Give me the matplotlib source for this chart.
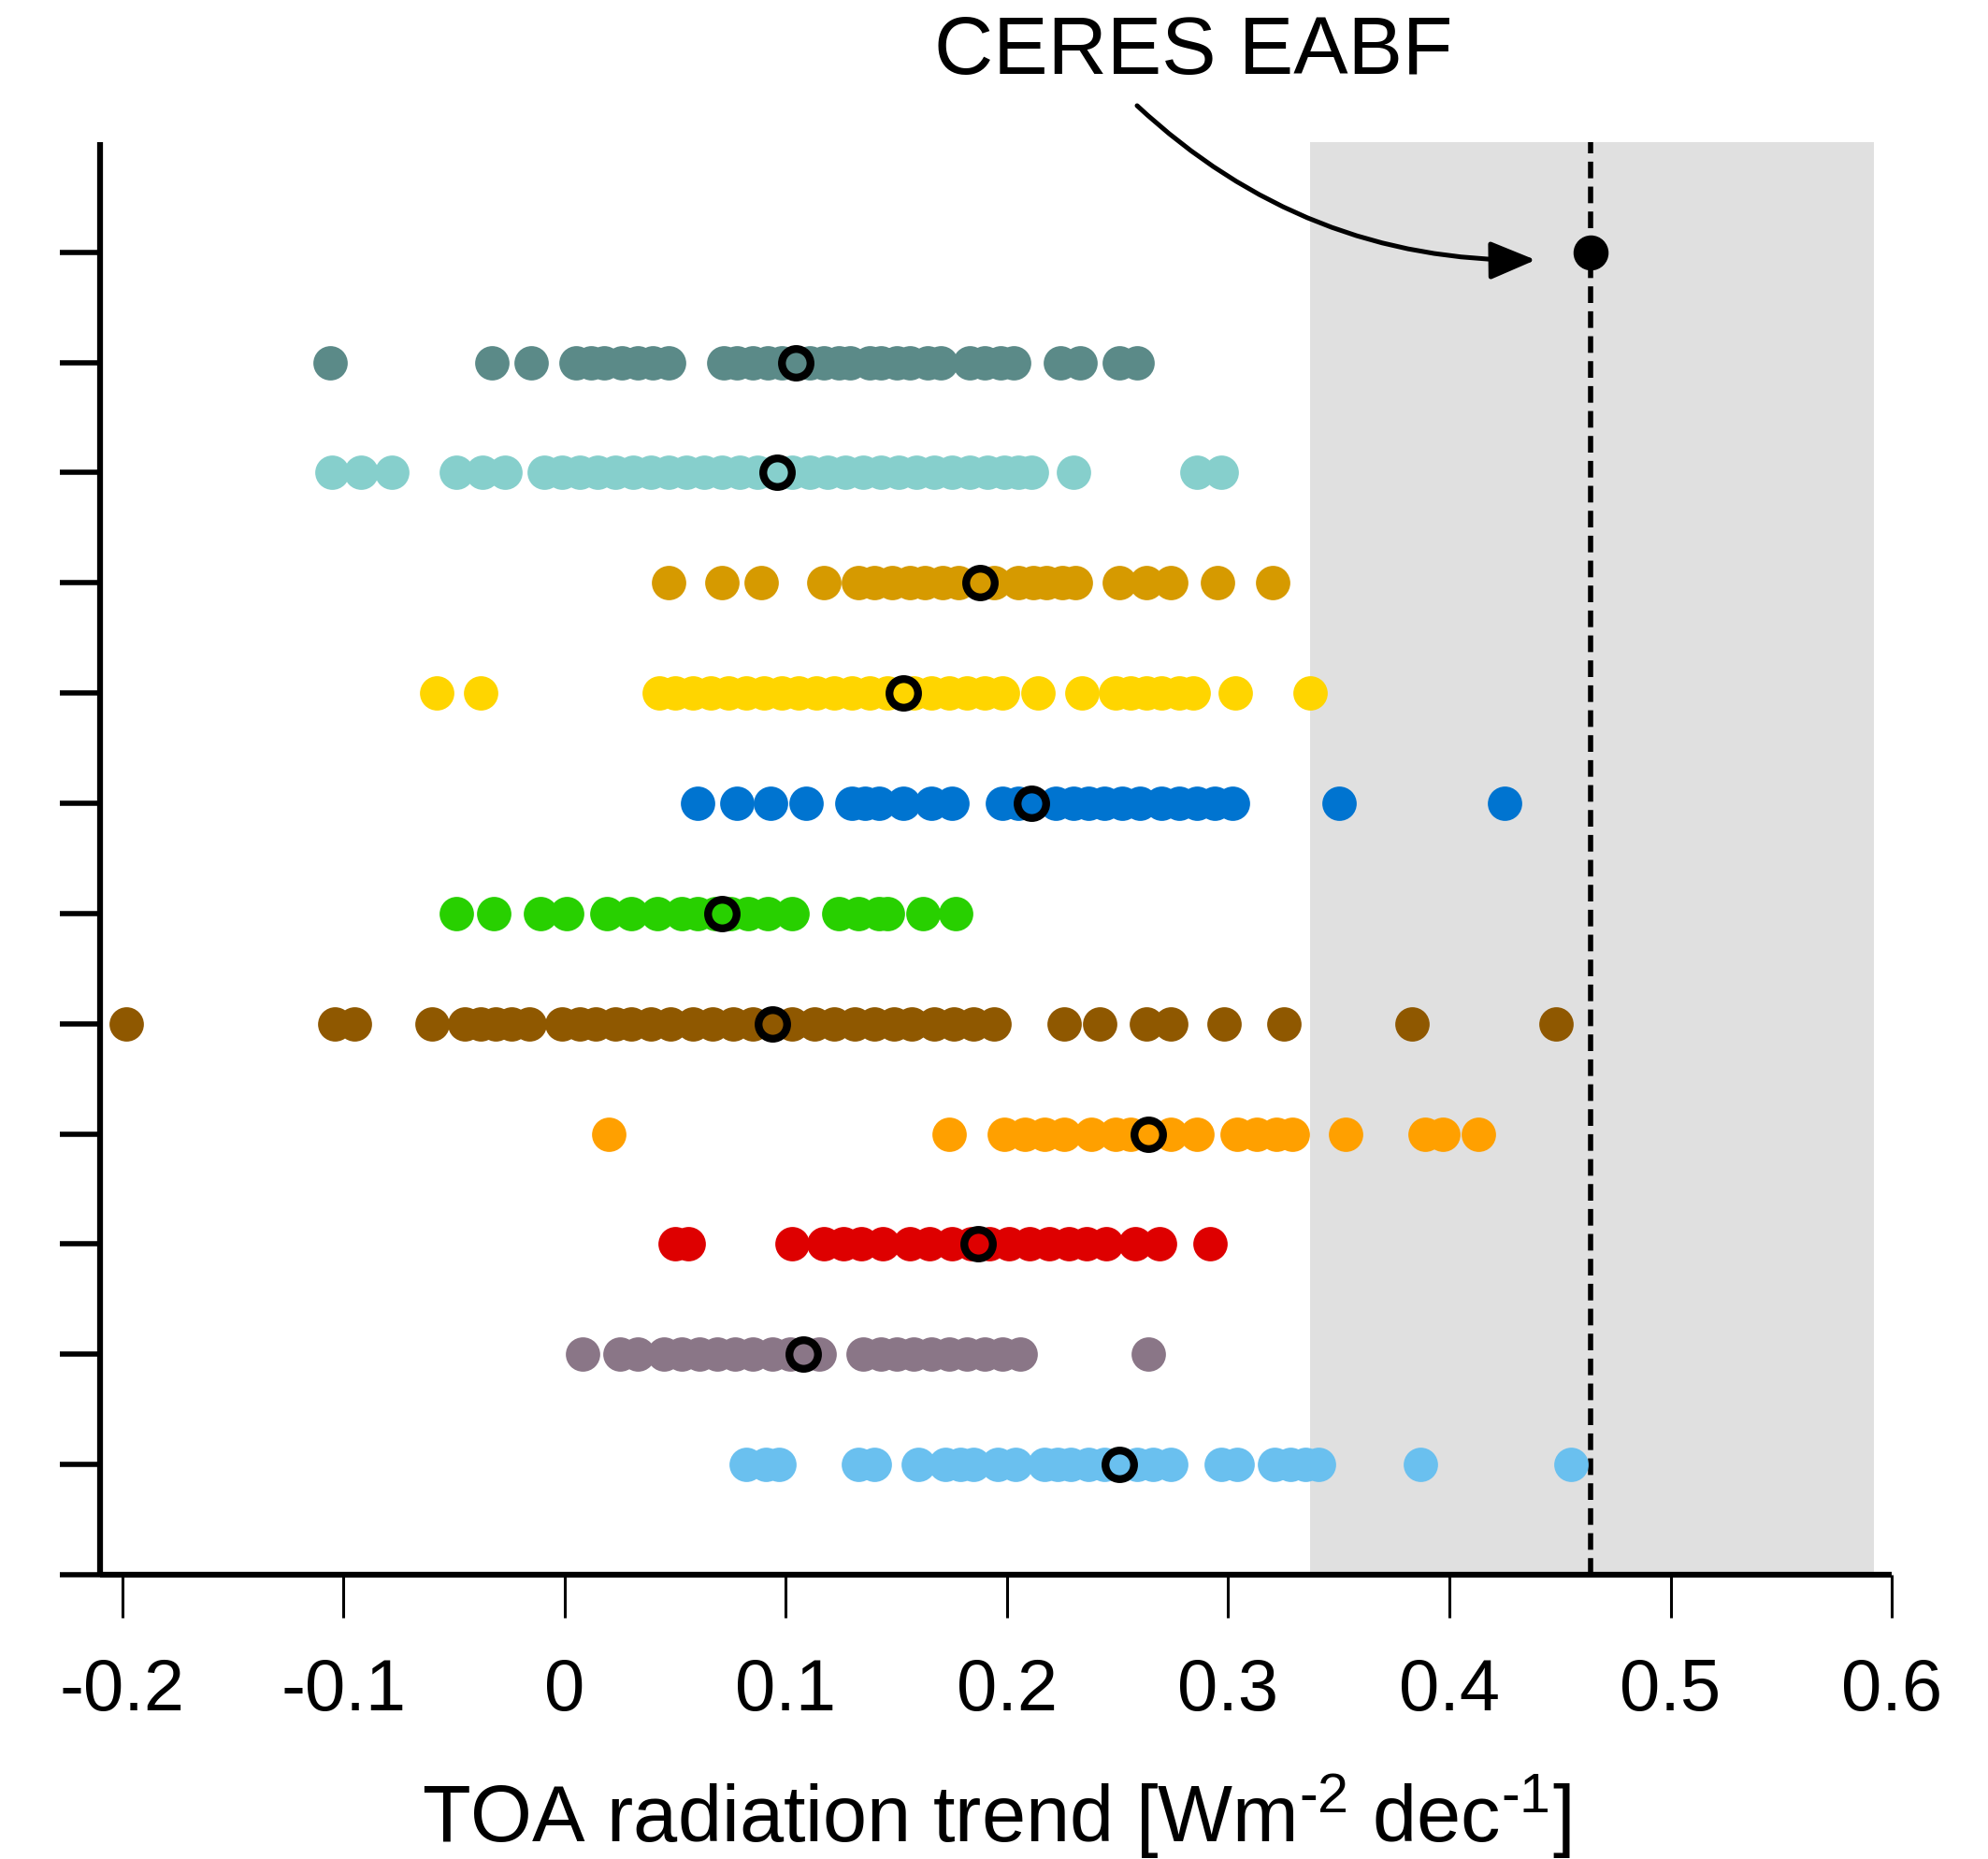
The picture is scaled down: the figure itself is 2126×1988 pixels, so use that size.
import numpy as np
import matplotlib
matplotlib.use('Agg')
import matplotlib.pyplot as plt

plt.rcParams['font.family'] = ['Liberation Sans', 'DejaVu Sans']
plt.rcParams['mathtext.fontset'] = 'custom'
plt.rcParams['mathtext.rm'] = 'Liberation Sans'
plt.rcParams['mathtext.it'] = 'Liberation Sans'
plt.rcParams['mathtext.default'] = 'regular'

# Trend values, one list per row (top to bottom)
row_slate = [-0.106, -0.033, -0.015, 0.005, 0.012, 0.018, 0.026, 0.033, 0.040, 0.047,
             0.072, 0.078, 0.085, 0.092, 0.098, 0.104, 0.111, 0.117, 0.124, 0.129,
             0.138, 0.143, 0.150, 0.156, 0.164, 0.170, 0.183, 0.190, 0.197, 0.203,
             0.224, 0.233, 0.251, 0.259]
row_teal = [-0.105, -0.092, -0.078, -0.049, -0.037, -0.027, -0.009, -0.001, 0.007,
            0.015, 0.023, 0.031, 0.039, 0.047, 0.055, 0.063, 0.071, 0.079, 0.087,
            0.095, 0.103, 0.111, 0.119, 0.127, 0.135, 0.143, 0.151, 0.159, 0.167,
            0.175, 0.183, 0.191, 0.199, 0.205, 0.211, 0.230, 0.286, 0.297]
row_goldenrod = [0.047, 0.071, 0.089, 0.117, 0.133, 0.140, 0.148, 0.156, 0.163, 0.171,
                 0.178, 0.194, 0.205, 0.212, 0.218, 0.225, 0.231, 0.251, 0.263, 0.274,
                 0.295, 0.320]
row_gold = [-0.058, -0.038, 0.043, 0.050, 0.058, 0.066, 0.074, 0.082, 0.090, 0.098,
            0.106, 0.114, 0.122, 0.130, 0.138, 0.146, 0.158, 0.166, 0.174, 0.182,
            0.190, 0.198, 0.214, 0.234, 0.249, 0.256, 0.263, 0.270, 0.278, 0.284,
            0.303, 0.337]
row_blue = [0.060, 0.078, 0.093, 0.109, 0.130, 0.136, 0.142, 0.153, 0.166, 0.175,
            0.198, 0.205, 0.222, 0.230, 0.237, 0.244, 0.252, 0.260, 0.270, 0.278,
            0.286, 0.294, 0.302, 0.350, 0.425]
row_green = [-0.049, -0.032, -0.011, 0.001, 0.019, 0.030, 0.042, 0.053, 0.060, 0.068,
             0.075, 0.083, 0.092, 0.103, 0.124, 0.133, 0.142, 0.146, 0.162, 0.177]
row_brown = [-0.198, -0.104, -0.095, -0.060, -0.045, -0.038, -0.031, -0.024, -0.016,
             -0.001, 0.007, 0.014, 0.023, 0.030, 0.039, 0.048, 0.058, 0.067, 0.076,
             0.085, 0.094, 0.103, 0.113, 0.122, 0.131, 0.140, 0.149, 0.157, 0.167,
             0.176, 0.185, 0.194, 0.226, 0.242, 0.263, 0.274, 0.298, 0.325, 0.383,
             0.448]
row_orange = [0.020, 0.174, 0.199, 0.208, 0.217, 0.226, 0.238, 0.249, 0.256, 0.274,
              0.286, 0.304, 0.313, 0.322, 0.329, 0.353, 0.389, 0.397, 0.413]
row_red = [0.050, 0.056, 0.103, 0.117, 0.126, 0.134, 0.144, 0.156, 0.165, 0.175,
           0.184, 0.192, 0.201, 0.210, 0.219, 0.228, 0.236, 0.245, 0.258, 0.269, 0.292]
row_mauve = [0.008, 0.025, 0.033, 0.045, 0.053, 0.061, 0.069, 0.077, 0.085, 0.094,
             0.102, 0.115, 0.135, 0.143, 0.150, 0.158, 0.166, 0.174, 0.182, 0.190,
             0.198, 0.206, 0.264]
row_lightblue = [0.082, 0.091, 0.097, 0.133, 0.140, 0.160, 0.172, 0.179, 0.185, 0.196,
                 0.204, 0.217, 0.223, 0.229, 0.237, 0.244, 0.252, 0.259, 0.266, 0.274,
                 0.297, 0.304, 0.321, 0.328, 0.335, 0.341, 0.387, 0.455]

rows = [row_slate, row_teal, row_goldenrod, row_gold, row_blue, row_green,
        row_brown, row_orange, row_red, row_mauve, row_lightblue]
row_means = [0.1045, 0.096, 0.188, 0.153, 0.211, 0.071, 0.094, 0.264, 0.187, 0.108, 0.251]
row_colors = ['#5B8A88', '#86CFCC', '#D69A00', '#FFD500', '#0074D0', '#28D000',
              '#8F5800', '#FFA000', '#DE0000', '#8A7687', '#6AC0EF']

ceres_value = 0.464
ceres_range = (0.337, 0.592)

fig = plt.figure(figsize=(21.26, 19.88), dpi=100)
ax = fig.add_axes([0.0503, 0.1529, 0.9013, 0.7707])

n = len(rows)
ax.axvspan(ceres_range[0], ceres_range[1], color='#E0E0E0', lw=0, zorder=0)
ax.axvline(ceres_value, color='black', lw=4, ls=(0, (3.2, 1.6)), zorder=1)

for i, (vals, mean, col) in enumerate(zip(rows, row_means, row_colors)):
    y = n - i
    ax.scatter(vals, np.full(len(vals), y), s=700, color=col, linewidths=0, zorder=2)
    ax.plot(mean, y, 'o', ms=22, mfc=col, mec='black', mew=6, zorder=3)

ax.plot(ceres_value, n + 1, 'o', ms=26, color='black', zorder=4)

ax.set_xlim(-0.21, 0.6)
ax.set_ylim(0, n + 2)
ax.set_xticks([-0.2, -0.1, 0, 0.1, 0.2, 0.3, 0.4, 0.5, 0.6])
ax.set_xticklabels(['-0.2', '-0.1', '0', '0.1', '0.2', '0.3', '0.4', '0.5', '0.6'])
ax.set_yticks(range(0, n + 2))
ax.set_yticklabels([])

for s in ['top', 'right']:
    ax.spines[s].set_visible(False)
for s in ['left', 'bottom']:
    ax.spines[s].set_linewidth(4.5)
    ax.spines[s].set_capstyle('butt')
ax.tick_params(axis='y', length=31, width=4, direction='out')
ax.tick_params(axis='x', length=33, width=2.2, direction='out', labelsize=56, pad=30)

ax.set_xlabel('TOA radiation trend [Wm$^{\u2010 2}$ dec$^{\u2010 1}$]', fontsize=61,
              labelpad=36)

fig.text(1276 / 2126, 1 - 57 / 1988, 'CERES EABF', fontsize=63, ha='center', va='center')
ax.annotate('', xy=(ceres_value - 0.025, n + 0.93), xycoords='data',
            xytext=(1216 / 2126, 1 - 113 / 1988), textcoords='figure fraction',
            arrowprops=dict(arrowstyle='-|>,head_length=1.0,head_width=0.42',
                            connectionstyle='arc3,rad=0.2', color='black', lw=3.6,
                            mutation_scale=30, shrinkA=0, shrinkB=0))

fig.savefig('out.png', dpi=100, facecolor='white')
